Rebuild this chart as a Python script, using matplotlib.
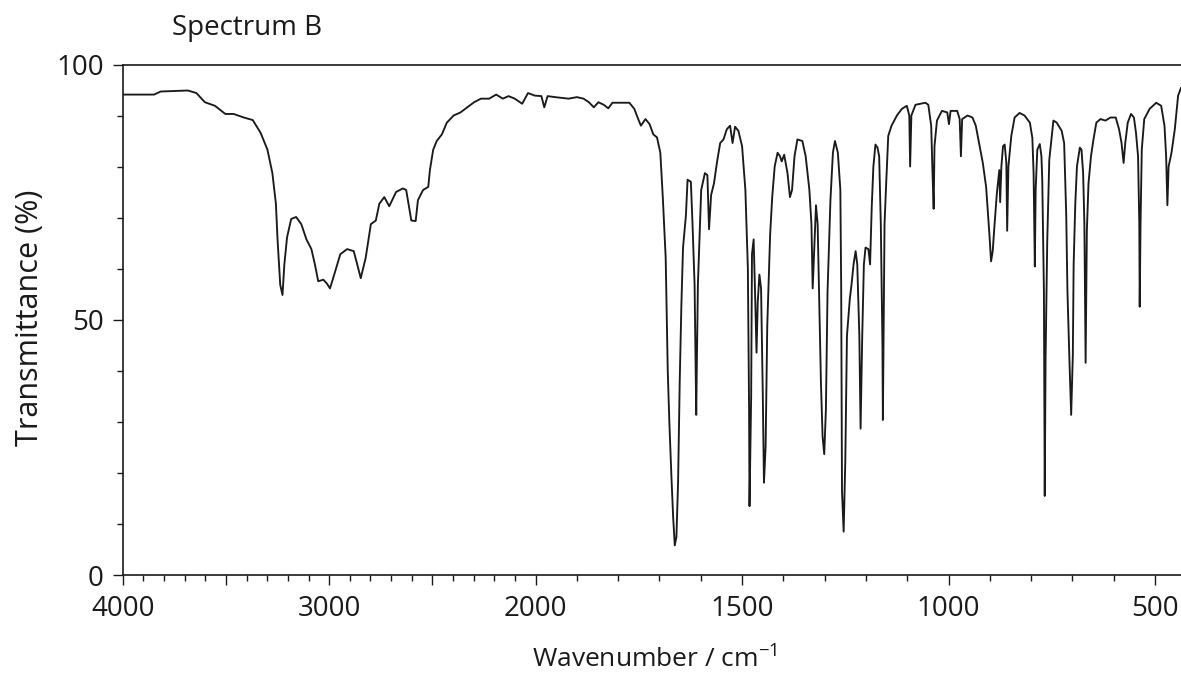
import matplotlib
matplotlib.use('Agg')
import matplotlib.pyplot as plt
import numpy as np
from matplotlib.ticker import FixedLocator, FixedFormatter, MultipleLocator

plt.rcParams['font.family'] = ['Open Sans', 'DejaVu Sans']
plt.rcParams['mathtext.fontset'] = 'custom'
plt.rcParams['mathtext.rm'] = 'Open Sans'
plt.rcParams['mathtext.it'] = 'Open Sans:italic'

# ---- data ----
wavenumber = [
    4000, 3848, 3816, 3684, 3643, 3602, 3553, 3503, 3463, 3413, 3370, 3332, 3299, 3275,
    3258, 3250, 3237, 3226, 3217, 3204, 3184, 3160, 3135, 3110, 3086, 3069, 3053, 3028,
    3012, 2996, 2971, 2946, 2913, 2881, 2864, 2847, 2823, 2798, 2774, 2757, 2733, 2709,
    2676, 2643, 2627, 2610, 2602, 2581, 2570, 2545, 2520, 2512, 2496, 2479, 2454, 2430,
    2397, 2364, 2331, 2298, 2265, 2225, 2191, 2159, 2131, 2101, 2065, 2037, 2004, 1986,
    1979, 1971, 1953, 1920, 1900, 1884, 1871, 1859, 1848, 1835, 1824, 1814, 1773, 1761,
    1753, 1745, 1734, 1724, 1715, 1706, 1698, 1692, 1685, 1680, 1676, 1671, 1667, 1663,
    1659, 1655, 1651, 1647, 1643, 1636, 1632, 1624, 1620, 1615, 1611, 1610, 1607, 1602,
    1599, 1590, 1584, 1580, 1575, 1568, 1561, 1553, 1545, 1537, 1529, 1523, 1517, 1509,
    1500, 1492, 1486, 1483, 1482, 1478, 1476, 1472, 1468, 1465, 1462, 1458, 1454, 1450,
    1447, 1443, 1439, 1432, 1427, 1421, 1414, 1408, 1404, 1398, 1390, 1384, 1379, 1373,
    1366, 1354, 1346, 1337, 1332, 1329, 1325, 1321, 1317, 1313, 1309, 1305, 1301, 1297,
    1293, 1286, 1280, 1275, 1268, 1262, 1260, 1258, 1254, 1250, 1246, 1239, 1235, 1230,
    1225, 1221, 1216, 1213, 1209, 1205, 1201, 1194, 1190, 1186, 1182, 1177, 1172, 1168,
    1164, 1160, 1159, 1155, 1151, 1146, 1138, 1125, 1113, 1101, 1095, 1093, 1090, 1080,
    1056, 1049, 1042, 1039, 1036, 1034, 1028, 1016, 1003, 999, 995, 979, 973, 970,
    967, 954, 942, 934, 926, 917, 909, 905, 901, 897, 893, 889, 883, 877,
    875, 872, 868, 864, 860, 858, 855, 848, 840, 828, 816, 803, 797, 794,
    791, 789, 785, 779, 775, 773, 769, 767, 765, 761, 756, 746, 738, 726,
    720, 715, 712, 707, 703, 699, 697, 693, 689, 682, 678, 674, 671, 668,
    665, 661, 655, 649, 642, 632, 620, 608, 595, 587, 581, 576, 572, 566,
    558, 551, 546, 541, 538, 537, 535, 532, 526, 513, 497, 485, 477, 473,
    470, 467, 460, 452, 444, 437,
]
transmittance = [
    94.2, 94.2, 94.8, 95.0, 94.5, 92.7, 92.0, 90.4, 90.4, 89.7, 89.2, 86.7, 83.4, 78.8,
    72.8, 65.8, 56.9, 54.9, 60.9, 66.2, 69.8, 70.2, 68.8, 65.8, 63.9, 60.9, 57.6, 57.9,
    57.2, 56.2, 59.5, 62.9, 63.9, 63.5, 60.9, 58.2, 62.2, 68.8, 69.5, 72.8, 74.1, 72.3,
    75.1, 75.8, 75.5, 71.5, 69.5, 69.4, 73.5, 75.5, 76.1, 79.4, 83.4, 85.1, 86.4, 88.7,
    90.1, 90.7, 91.7, 92.7, 93.4, 93.4, 94.2, 93.4, 93.9, 93.4, 92.4, 94.5, 94.0, 93.9,
    91.7, 93.9, 93.7, 93.4, 93.7, 93.4, 92.7, 91.7, 92.7, 92.2, 91.5, 92.6, 92.6, 91.4,
    89.7, 88.1, 89.4, 88.4, 86.4, 85.8, 82.8, 74.1, 62.2, 40.0, 29.7, 19.1, 11.5, 5.8,
    7.5, 18.1, 38.0, 52.9, 64.2, 70.5, 77.5, 77.1, 68.8, 56.9, 31.4, 38.3, 56.9, 68.2,
    75.5, 78.8, 78.4, 67.8, 74.5, 76.8, 80.8, 84.7, 85.4, 87.4, 88.1, 84.7, 87.9, 87.1,
    84.1, 75.5, 60.2, 32.4, 13.5, 35.0, 62.9, 65.8, 53.6, 43.6, 53.6, 58.9, 56.2, 36.3,
    18.1, 25.1, 48.9, 66.8, 74.1, 80.1, 82.8, 82.1, 81.1, 82.4, 78.8, 74.1, 75.5, 82.1,
    85.4, 85.1, 82.1, 75.5, 68.8, 56.2, 64.2, 72.5, 68.8, 52.9, 37.7, 27.1, 23.7, 32.4,
    55.6, 73.5, 82.8, 85.1, 82.8, 75.5, 56.9, 16.4, 8.5, 22.4, 46.9, 54.2, 56.9, 60.9,
    63.5, 60.9, 46.9, 28.7, 46.9, 60.9, 64.2, 63.9, 60.9, 72.1, 80.1, 84.4, 83.8, 82.1,
    68.8, 45.0, 30.4, 68.8, 76.8, 86.1, 88.1, 90.1, 91.4, 92.0, 90.1, 80.1, 90.1, 92.2,
    92.6, 92.2, 88.1, 79.4, 71.8, 84.1, 89.1, 91.0, 90.7, 88.4, 91.0, 91.0, 89.4, 82.1,
    89.4, 90.1, 89.7, 88.1, 84.7, 80.8, 76.1, 71.5, 66.8, 61.5, 63.5, 68.2, 74.8, 79.4,
    73.1, 80.1, 84.1, 84.4, 80.8, 67.5, 80.1, 86.1, 89.7, 90.6, 90.1, 88.7, 85.7, 78.8,
    60.5, 75.5, 83.4, 84.5, 82.1, 77.5, 55.6, 15.5, 42.3, 65.2, 81.4, 89.1, 88.7, 87.1,
    84.7, 70.8, 55.6, 41.6, 31.4, 43.0, 60.9, 72.8, 80.1, 83.8, 83.4, 78.8, 68.8, 41.6,
    67.5, 76.8, 82.1, 85.4, 88.7, 89.4, 89.1, 89.7, 89.7, 87.4, 84.7, 80.8, 84.7, 88.7,
    90.4, 89.7, 86.7, 82.1, 68.8, 52.6, 68.8, 83.4, 89.4, 91.4, 92.6, 92.0, 88.1, 82.1,
    72.5, 80.1, 82.8, 87.4, 94.0, 95.5,
]

x_major = [4000, 3500, 3000, 2500, 2000, 1500, 1000, 500]
x_labels = ['4000', '', '3000', '', '2000', '1500', '1000', '500']
y_major = [0, 50, 100]
y_labels = ['0', '50', '100']


# wavenumber axis: scale doubles below 2000 cm-1
def fwd(x):
    x = np.asarray(x, dtype=float)
    return np.where(x >= 2000, x, 2 * x - 2000)


def inv(y):
    y = np.asarray(y, dtype=float)
    return np.where(y >= 2000, y, (y + 2000) / 2)


W, H = 1181, 686
fig = plt.figure(figsize=(W / 100, H / 100), dpi=100)
L, R, T, B = 122.7, 1181, 65, 575
ax = fig.add_axes([L / W, 1 - B / H, (R - L) / W, (B - T) / H])
ax.set_xscale('function', functions=(fwd, inv))

ax.plot(wavenumber, transmittance, color='#1a1a1a', lw=1.35)

ax.set_xlim(4000, 437)
ax.set_ylim(0, 100)

ax.xaxis.set_major_locator(FixedLocator(x_major))
ax.xaxis.set_major_formatter(FixedFormatter(x_labels))
ax.xaxis.set_minor_locator(FixedLocator(list(range(500, 4001, 100))))
ax.yaxis.set_major_locator(FixedLocator(y_major))
ax.yaxis.set_major_formatter(FixedFormatter(y_labels))
ax.yaxis.set_minor_locator(MultipleLocator(10))

ax.tick_params(axis='both', which='major', direction='out', length=7.5, width=1.0,
               color='#1a1a1a', labelsize=20, labelcolor='#1a1a1a')
ax.tick_params(axis='both', which='minor', direction='out', length=4, width=1.0,
               color='#1a1a1a')
ax.tick_params(axis='x', which='major', pad=7)
ax.tick_params(axis='y', which='major', pad=6)

for s in ['left', 'bottom', 'top']:
    ax.spines[s].set_linewidth(1.2)
    ax.spines[s].set_color('#1a1a1a')
ax.spines['right'].set_visible(False)

fig.text(247 / W, 1 - 28 / H, 'Spectrum B', ha='center', va='center',
         fontsize=20, color='#1a1a1a')
fig.text(30 / W, 1 - 318 / H, 'Transmittance (%)', ha='center', va='center',
         rotation=90, fontsize=22, color='#1a1a1a')
fig.text(655 / W, 1 - 660 / H, r'Wavenumber / cm$^{\mathregular{-1}}$', ha='center',
         va='center', fontsize=19, color='#1a1a1a')

fig.savefig('out.png', dpi=100)
